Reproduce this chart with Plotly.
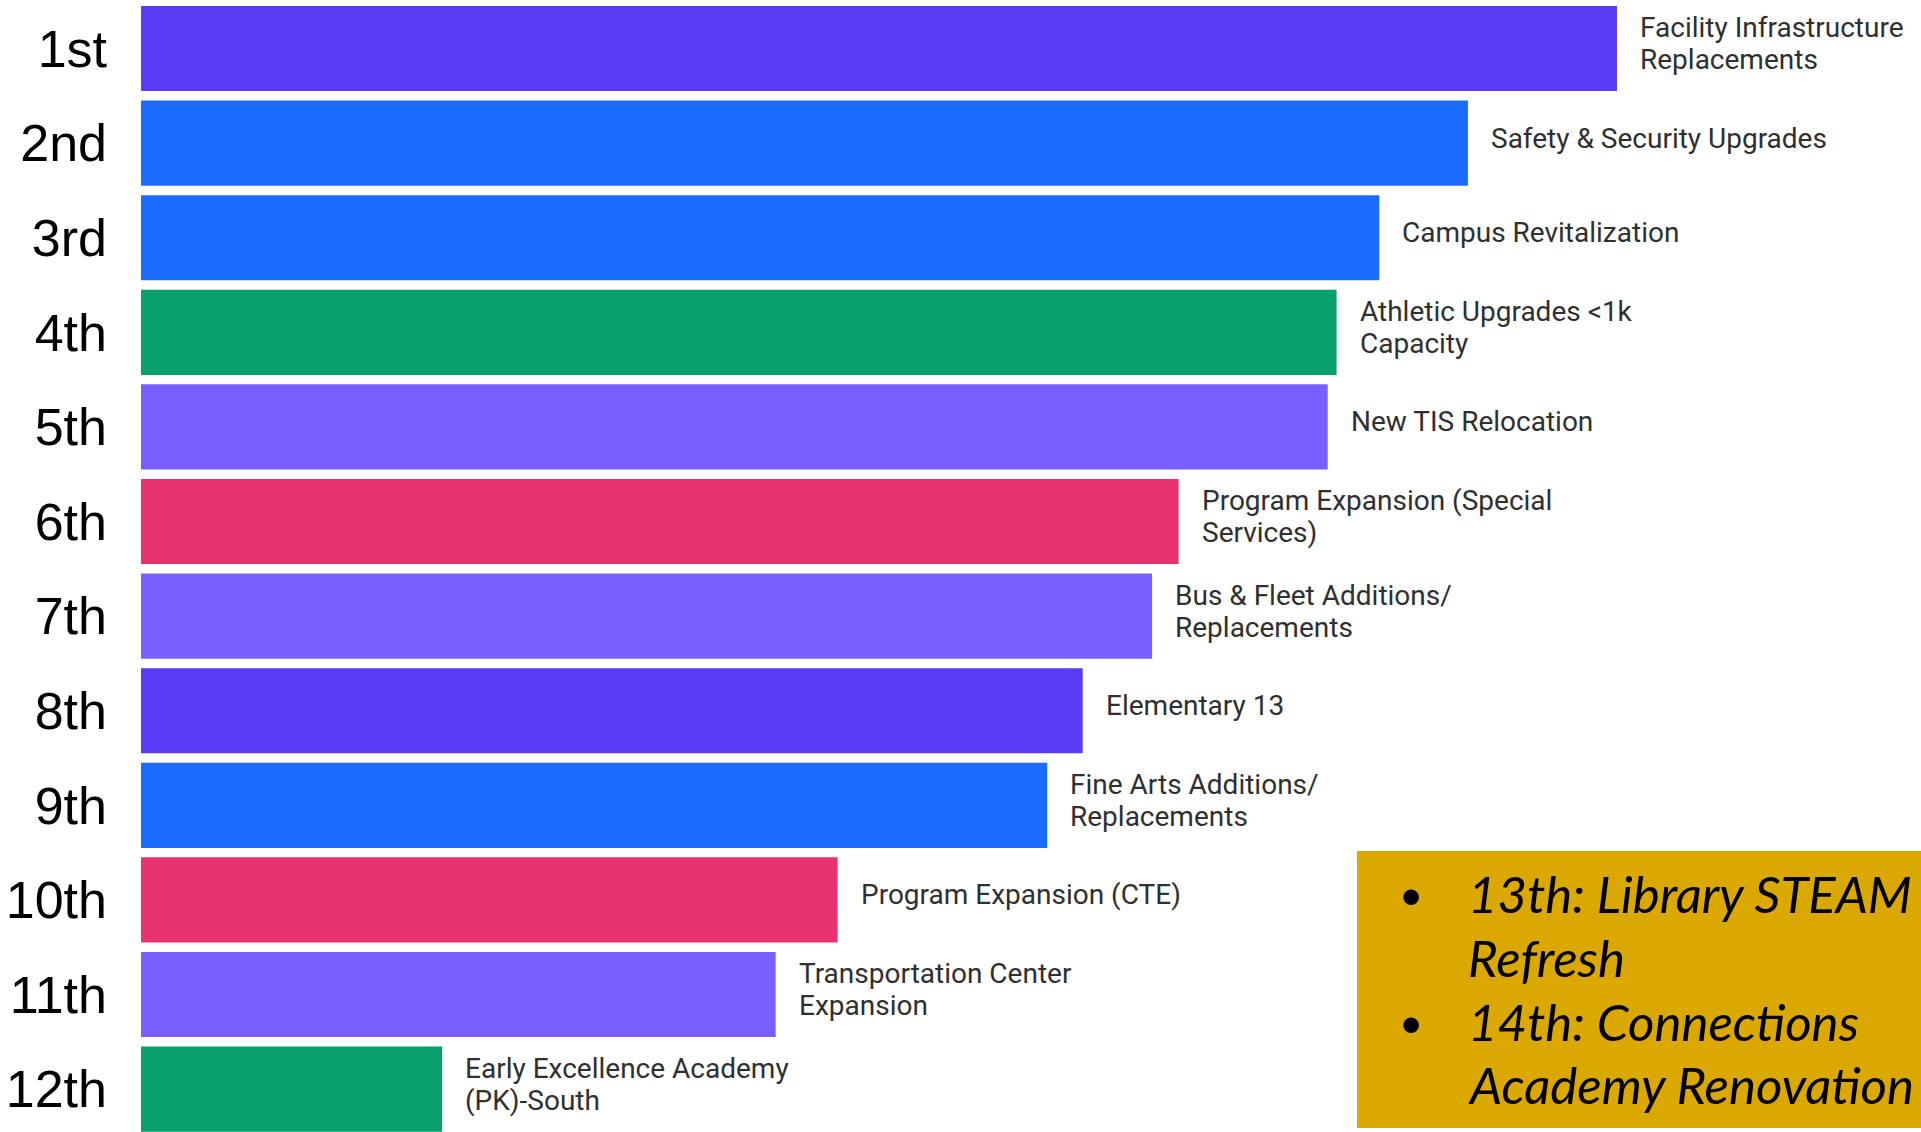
import plotly.graph_objects as go

ranks = ["1st", "2nd", "3rd", "4th", "5th", "6th", "7th", "8th", "9th", "10th", "11th", "12th"]
projects = [
    "Facility Infrastructure<br>Replacements",
    "Safety & Security Upgrades",
    "Campus Revitalization",
    "Athletic Upgrades <1k<br>Capacity",
    "New TIS Relocation",
    "Program Expansion (Special<br>Services)",
    "Bus & Fleet Additions/<br>Replacements",
    "Elementary 13",
    "Fine Arts Additions/<br>Replacements",
    "Program Expansion (CTE)",
    "Transportation Center<br>Expansion",
    "Early Excellence Academy<br>(PK)-South",
]
scores = [100, 89.9, 83.9, 81.0, 80.4, 70.3, 68.5, 63.8, 61.4, 47.2, 43.0, 20.4]
bar_colors = ["#5B3AF4", "#1B6BFF", "#1B6BFF", "#05A06B", "#7B5EFF", "#E8336E",
              "#7B5EFF", "#5B3AF4", "#1B6BFF", "#E8336E", "#7B5EFF", "#05A06B"]
note_lines = [["13th: Library STEAM", "Refresh"], ["14th: Connections", "Academy Renovation"]]

W, H = 1921, 1132
ML = 141
PW = W - ML
LINE_PITCH = 32

fig = go.Figure()
fig.add_trace(go.Bar(
    x=scores, y=ranks, orientation="h",
    marker=dict(color=bar_colors, line=dict(width=0)),
    hoverinfo="skip",
))

annotations = []
for r, s, p in zip(ranks, scores, projects):
    parts = p.split("<br>")
    n = len(parts)
    for i, part in enumerate(parts):
        annotations.append(dict(
            x=s, y=r, xref="x", yref="y", text=part, showarrow=False,
            xanchor="left", yanchor="middle", align="left", xshift=21,
            yshift=((n - 1) / 2 - i) * LINE_PITCH + 5,
            font=dict(family="Roboto", size=28, color="#2f2f2f"),
        ))

def px_x(px):
    return (px - ML) / PW

def px_y(py):
    return 1 - py / H

line_centers = [893, 957, 1021, 1084]
k = 0
for group in note_lines:
    annotations.append(dict(
        x=px_x(1411), y=px_y(line_centers[k] + 2), xref="paper", yref="paper",
        text="•", showarrow=False, xanchor="center", yanchor="middle",
        font=dict(family="Liberation Sans", size=58, color="black"),
    ))
    for line in group:
        annotations.append(dict(
            x=px_x(1466), y=px_y(line_centers[k]), xref="paper", yref="paper",
            text="<i>" + line + "</i>", showarrow=False, xanchor="left", yanchor="middle",
            font=dict(family="Lato", size=51, color="black"),
        ))
        k += 1

fig.update_layout(
    width=W, height=H,
    margin=dict(l=ML, r=0, t=0, b=0),
    paper_bgcolor="white", plot_bgcolor="white",
    bargap=0.1,
    showlegend=False,
    xaxis=dict(range=[0, PW / 14.76], visible=False, showgrid=False, zeroline=False),
    yaxis=dict(
        range=[11.453, -0.513], showgrid=False, zeroline=False, showline=False,
        ticks="", ticklabelstandoff=33,
        tickfont=dict(family="Liberation Sans", size=52, color="black"),
    ),
    annotations=annotations,
    shapes=[dict(
        type="rect", xref="paper", yref="paper",
        x0=px_x(1357), x1=1.05, y0=px_y(1128), y1=px_y(851),
        fillcolor="#DBA800", line=dict(width=0), layer="below",
    )],
)

fig.write_html(
    "out.html",
    config={"displayModeBar": False},
    post_script="document.body.style.margin='0px';document.body.style.overflow='hidden';",
)
